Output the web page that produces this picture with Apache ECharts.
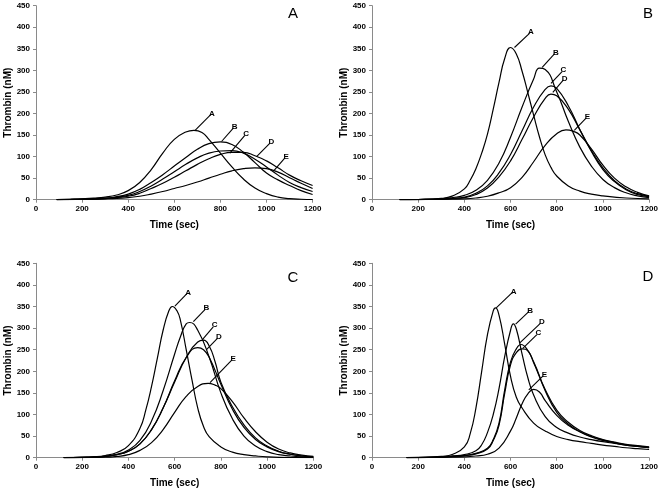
<!DOCTYPE html>
<html>
<head>
<meta charset="utf-8">
<script src="https://cdn.jsdelivr.net/npm/echarts@6/dist/echarts.min.js"></script>
<style>
html,body{margin:0;padding:0;background:#fff;}
#chart{width:661px;height:492px;}
</style>
</head>
<body>
<div id="chart"></div>
<script>
// ---- axis ticks ----
const timeTicks = [0, 200, 400, 600, 800, 1000, 1200];
const thrombinTicks = [0, 50, 100, 150, 200, 250, 300, 350, 400, 450];
const curveNames = ['A', 'B', 'C', 'D', 'E'];
const panelLetters = ['A', 'B', 'C', 'D'];

// ---- Panel A data: [time (s), thrombin (nM)] ----
const pA_A = [[90,0],[150,1],[200,2],[250,3.5],[300,6],[350,11],[400,21],[450,40],[500,70],[550,108],[600,140],[650,157],[685,161],[720,156],[750,140],[800,108],[850,76],[900,48],[950,27],[1000,14],[1050,6],[1100,2.5],[1150,1],[1200,0.5]];
const pA_B = [[90,0],[150,0.7],[200,1.2],[300,3.5],[350,7],[400,13],[450,24],[500,40],[550,58],[600,78],[650,98],[700,117],[750,130],[800,134],[850,128],[900,110],[950,86],[1000,62],[1050,46],[1100,33],[1150,21],[1200,12]];
const pA_C = [[90,0],[150,0.6],[200,1],[300,3],[350,6],[400,10],[450,19],[500,32],[550,48],[600,65],[650,82],[700,97],[750,108],[800,113],[850,114],[900,108],[950,94],[1000,76],[1050,57],[1100,40],[1150,28],[1200,19]];
const pA_D = [[90,0],[150,0.5],[200,0.9],[300,2.5],[350,5],[400,8],[450,15],[500,26],[550,38],[600,52],[650,67],[700,82],[750,95],[800,105],[850,110],[900,110],[950,102],[1000,90],[1050,74],[1100,57],[1150,44],[1200,33]];
const pA_E = [[90,0],[150,0.4],[200,0.7],[300,2],[350,3],[400,5],[450,8],[500,13],[550,19],[600,26],[650,33],[700,41],[750,50],[800,59],[850,67],[900,72],[950,74],[1000,72],[1050,64],[1100,51],[1150,38],[1200,26]];

// ---- Panel B data ----
const pB_A = [[120,0],[200,0.5],[300,3],[350,9],[400,25],[425,45],[450,72],[475,108],[500,152],[525,210],[550,272],[575,328],[600,353],[625,338],[650,298],[675,248],[700,196],[725,146],[750,104],[775,75],[800,55],[850,32],[900,20],[950,13],[1000,9],[1100,4],[1200,2]];
const pB_B = [[120,0],[200,0.5],[300,2],[350,5],[400,10],[450,22],[500,45],[550,85],[600,145],[650,215],[700,280],[725,305],[750,302],[800,250],[850,182],[900,122],[950,78],[1000,47],[1050,28],[1100,16],[1150,9],[1200,5]];
const pB_C = [[120,0],[200,0.4],[300,1.5],[350,3],[400,6],[450,15],[500,32],[550,62],[600,105],[650,160],[700,215],[750,256],[775,264],[800,258],[850,218],[900,163],[950,112],[1000,70],[1050,42],[1100,23],[1150,12],[1200,7]];
const pB_D = [[120,0],[200,0.4],[300,1.5],[350,3],[400,5],[450,12],[500,27],[550,53],[600,90],[650,140],[700,192],[750,235],[775,245],[800,241],[850,210],[900,162],[950,114],[1000,74],[1050,44],[1100,25],[1150,14],[1200,8]];
const pB_E = [[120,0],[200,0.2],[300,0.8],[400,2],[450,4],[500,8],[550,16],[600,28],[650,52],[700,88],[750,126],[800,153],[840,162],[875,158],[900,150],[950,118],[1000,80],[1050,50],[1100,30],[1150,17],[1200,9]];

// ---- Panel C data ----
const pC_A = [[120,0],[200,1],[250,2],[300,5],[350,12],[400,28],[450,68],[475,110],[500,165],[525,230],[550,295],[575,340],[590,350],[610,340],[625,318],[650,250],[675,180],[700,115],[725,72],[750,48],[800,25],[850,13],[900,7],[950,4],[1000,2],[1100,0.5],[1200,0.2]];
const pC_B = [[120,0],[200,0.8],[300,3],[350,8],[400,18],[450,40],[500,85],[550,155],[600,240],[625,280],[650,310],[665,313],[700,295],[750,232],[800,150],[850,90],[900,50],[950,27],[1000,14],[1050,7],[1100,4],[1150,2],[1200,1]];
const pC_C = [[120,0],[200,0.6],[300,3],[350,7],[400,15],[450,32],[500,65],[550,115],[600,175],[650,232],[700,268],[725,272],[750,258],[775,222],[800,175],[850,118],[900,76],[950,46],[1000,27],[1050,15],[1100,8],[1150,4],[1200,2]];
const pC_D = [[120,0],[200,0.6],[300,3],[350,7],[400,15],[450,32],[500,65],[550,115],[600,178],[650,232],[700,255],[725,250],[750,232],[800,170],[850,112],[900,70],[950,42],[1000,25],[1050,14],[1100,8],[1150,4],[1200,2]];
const pC_E = [[120,0],[200,0.3],[300,1],[350,3],[400,7],[450,17],[500,35],[550,65],[600,105],[650,142],[700,165],[745,172],[775,168],[800,160],[850,130],[900,92],[950,60],[1000,36],[1050,20],[1100,11],[1150,6],[1200,3]];

// ---- Panel D data ----
const pD_A = [[150,0],[200,0.7],[250,1.5],[300,3],[350,8],[400,25],[425,55],[450,115],[475,200],[500,285],[525,340],[535,347],[550,330],[575,262],[600,188],[625,140],[650,115],[700,80],[750,62],[800,49],[850,42],[900,37],[950,33],[1000,29],[1050,26],[1100,23],[1150,21],[1200,19]];
const pD_B = [[150,0],[200,0.5],[300,2],[350,4],[400,7],[450,16],[475,30],[500,58],[525,100],[550,160],[575,235],[600,295],[612,310],[625,298],[650,240],[675,185],[700,145],[750,95],[800,70],[850,57],[900,48],[950,42],[1000,37],[1050,33],[1100,29],[1150,26],[1200,23]];
const pD_C = [[150,0],[200,0.4],[300,1.5],[350,3],[400,5],[450,9],[500,20],[525,40],[550,75],[575,150],[600,215],[625,243],[650,252],[665,251],[700,222],[750,155],[800,105],[850,78],[900,60],[950,48],[1000,40],[1050,34],[1100,29],[1150,26],[1200,23]];
const pD_D = [[150,0],[200,0.4],[300,1.5],[350,3],[400,5],[450,10],[500,22],[525,42],[550,80],[575,158],[600,222],[625,252],[645,262],[675,248],[700,220],[750,158],[800,110],[850,82],[900,63],[950,51],[1000,42],[1050,36],[1100,31],[1150,28],[1200,25]];
const pD_E = [[150,0],[200,0.2],[300,0.8],[400,2],[450,4],[500,8],[550,22],[600,62],[625,92],[650,125],[675,148],[700,158],[725,152],[750,132],[800,98],[850,75],[900,60],[950,49],[1000,41],[1050,35],[1100,30],[1150,27],[1200,24]];

// ---- leader lines for curve labels: [from time, from nM, to time, to nM] ----
const leadA = [[689,160,757,197],[805,135,856,166],[841,108,906,149],[957,100,1015,131],[1033,68,1080,97]];
const leadB = [[617,353,682,386],[737,307,790,338],[775,270,823,297],[783,249,829,278],[876,161,927,189]];
const leadC = [[601,351,652,379],[681,315,731,343],[721,274,767,303],[739,251,785,276],[753,174,847,226]];
const leadD = [[538,347,607,382],[622,309,679,338],[653,253,714,285],[639,265,729,311],[679,157,740,189]];

const panelData = [
  [pA_A, pA_B, pA_C, pA_D, pA_E],
  [pB_A, pB_B, pB_C, pB_D, pB_E],
  [pC_A, pC_B, pC_C, pC_D, pC_E],
  [pD_A, pD_B, pD_C, pD_D, pD_E]
];
const panelLeads = [leadA, leadB, leadC, leadD];

const FONT = '"Liberation Sans", Arial, sans-serif';
const AXIS_GRAY = '#8a8a8a';

const grids = [
  {left: 36, top: 5.7, width: 276.6, height: 194},
  {left: 372, top: 5.7, width: 278, height: 194},
  {left: 36, top: 263.3, width: 277.3, height: 194.4},
  {left: 372, top: 263.3, width: 278, height: 194.4}
];
const letterPos = [[293, 14], [648, 14], [293, 278], [648, 277]];

const xAxes = [], yAxes = [], series = [], graphics = [];
grids.forEach((g, i) => {
  xAxes.push({
    gridIndex: i, type: 'value', min: timeTicks[0], max: timeTicks[timeTicks.length - 1],
    interval: timeTicks[1] - timeTicks[0],
    name: 'Time (sec)', nameLocation: 'middle', nameGap: 21,
    nameTextStyle: {fontFamily: FONT, fontSize: 10, fontWeight: 'bold', color: '#000'},
    axisLine: {lineStyle: {color: AXIS_GRAY, width: 1}},
    axisTick: {show: true, length: 3, lineStyle: {color: AXIS_GRAY}},
    splitLine: {show: false},
    axisLabel: {fontFamily: FONT, fontSize: 8, fontWeight: 'bold', color: '#000', margin: 5,
      showMinLabel: true, showMaxLabel: true, formatter: v => String(v)}
  });
  yAxes.push({
    gridIndex: i, type: 'value', min: thrombinTicks[0], max: thrombinTicks[thrombinTicks.length - 1],
    interval: thrombinTicks[1] - thrombinTicks[0],
    name: 'Thrombin (nM)', nameLocation: 'middle', nameGap: 23, nameRotate: 90,
    nameTextStyle: {fontFamily: FONT, fontSize: 10, fontWeight: 'bold', color: '#000'},
    axisLine: {show: true, lineStyle: {color: AXIS_GRAY, width: 1}},
    axisTick: {show: true, length: 3, lineStyle: {color: AXIS_GRAY}},
    splitLine: {show: false},
    axisLabel: {fontFamily: FONT, fontSize: 8, fontWeight: 'bold', color: '#000', margin: 6,
      showMinLabel: true, showMaxLabel: true, formatter: v => String(v)}
  });
  panelData[i].forEach((d, k) => {
    const s = {
      type: 'line', xAxisIndex: i, yAxisIndex: i, data: d, name: curveNames[k],
      showSymbol: false, symbol: 'none', smooth: 0.5,
      lineStyle: {color: '#000', width: 1.2}, animation: false, silent: true, z: 3
    };
    if (k === 0) {
      s.markLine = {
        silent: true, animation: false, symbol: ['none', 'none'],
        lineStyle: {color: '#000', width: 1.1, type: 'solid'},
        data: panelLeads[i].map((L, j) => [
          {coord: [L[0], L[1]]},
          {coord: [L[2], L[3]], label: {show: true, position: 'end', distance: 2, formatter: curveNames[j],
            fontFamily: FONT, fontSize: 8, fontWeight: 'bold', color: '#000'}}
        ])
      };
    }
    series.push(s);
  });
  graphics.push({
    type: 'text', x: letterPos[i][0], y: letterPos[i][1],
    style: {text: panelLetters[i], fontFamily: FONT, fontSize: 15, fill: '#000', textAlign: 'center', textVerticalAlign: 'middle'}
  });
});

const chart = echarts.init(document.getElementById('chart'), null, {renderer: 'canvas'});
chart.setOption({
  backgroundColor: '#fff',
  animation: false,
  grid: grids,
  xAxis: xAxes,
  yAxis: yAxes,
  series: series,
  graphic: graphics
});
</script>
</body>
</html>
